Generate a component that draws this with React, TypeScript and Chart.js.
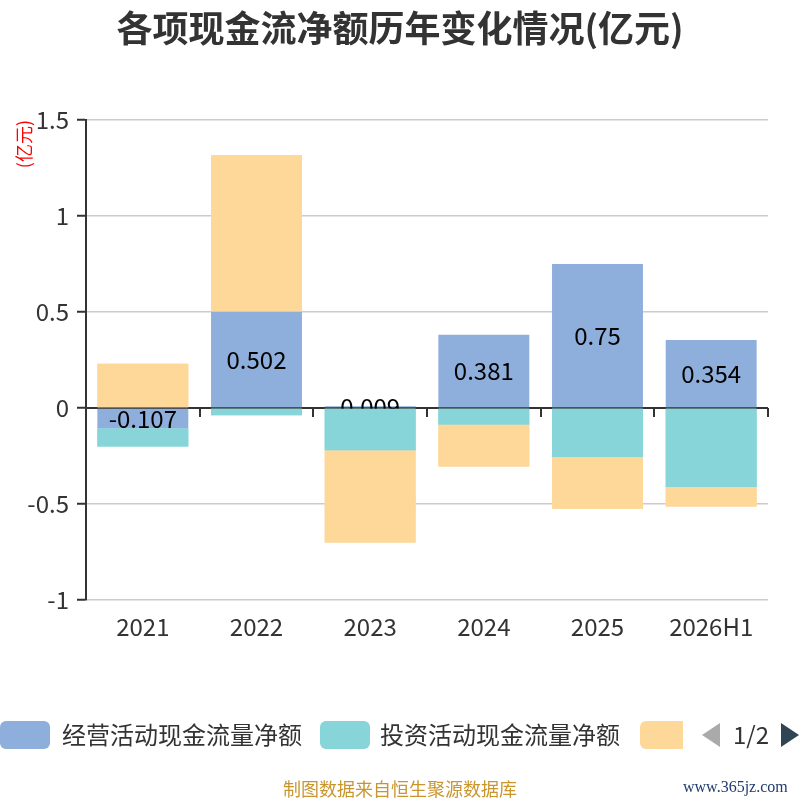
import { useEffect, useRef } from "react";
import { Chart, registerables } from "chart.js";

Chart.register(...registerables);

const categories = ["2021", "2022", "2023", "2024", "2025", "2026H1"];
const seriesNames = ["经营活动现金流量净额", "投资活动现金流量净额", "筹资活动现金流量净额"];
const operating = [-0.107, 0.502, 0.009, 0.381, 0.75, 0.354];
const investing = [-0.093, -0.038, -0.221, -0.087, -0.256, -0.412];
const financing = [0.231, 0.814, -0.48, -0.218, -0.269, -0.101];
const colors = ["#8eaedb", "#87d5d8", "#fdd899"];

const FONT = "'Noto Sans CJK SC', 'Noto Sans', sans-serif";

// zero axis line with ticks at category boundaries, drawn under the bars
const zeroAxis = {
  id: "zeroAxis",
  beforeDatasetsDraw(chart: any) {
    const { ctx, chartArea, scales } = chart;
    const y0 = Math.round(scales.y.getPixelForValue(0));
    const step = (chartArea.right - chartArea.left) / categories.length;
    ctx.save();
    ctx.strokeStyle = "#333";
    ctx.lineWidth = 2;
    ctx.beginPath();
    ctx.moveTo(chartArea.left, y0);
    ctx.lineTo(chartArea.right, y0);
    for (let i = 1; i <= categories.length; i++) {
      const x = Math.round(chartArea.left + i * step);
      ctx.moveTo(x, y0);
      ctx.lineTo(x, y0 + 9);
    }
    ctx.stroke();
    ctx.restore();
  },
};

// operating values in the middle of the blue bars; the other bars are painted
// again afterwards so they cover the labels like in the original
const barLabels = {
  id: "barLabels",
  afterDatasetsDraw(chart: any) {
    const { ctx } = chart;
    const meta = chart.getDatasetMeta(0);
    ctx.save();
    ctx.font = `24px ${FONT}`;
    ctx.fillStyle = "#000";
    ctx.textAlign = "center";
    ctx.textBaseline = "middle";
    meta.data.forEach((el: any, i: number) => {
      const y = (el.y + el.base) / 2;
      ctx.fillText(String(operating[i]), el.x, y);
    });
    ctx.restore();
    [1, 2].forEach((k) => {
      chart.getDatasetMeta(k).data.forEach((el: any) => el.draw(ctx));
    });
  },
};

export default function App() {
  const canvasRef = useRef<HTMLCanvasElement | null>(null);
  const chartRef = useRef<Chart | null>(null);

  useEffect(() => {
    const ctx = canvasRef.current?.getContext("2d");
    if (!ctx) return;
    if (chartRef.current) chartRef.current.destroy();

    chartRef.current = new Chart(ctx, {
      type: "bar",
      data: {
        labels: categories,
        datasets: [operating, investing, financing].map((d, i) => ({
          label: seriesNames[i],
          data: d,
          backgroundColor: colors[i],
          borderWidth: 0,
          categoryPercentage: 0.8,
          barPercentage: 1,
        })),
      },
      options: {
        responsive: true,
        maintainAspectRatio: false,
        animation: false,
        layout: { padding: { left: 0, right: 32, top: 120, bottom: 160 } },
        plugins: {
          legend: { display: false },
          tooltip: { enabled: false },
        },
        scales: {
          x: {
            stacked: true,
            grid: { display: false, drawTicks: false },
            border: { display: false },
            ticks: {
              color: "#333",
              padding: 12,
              font: { family: FONT, size: 24 },
            },
            afterFit: (s: any) => {
              s.height = 40;
            },
          },
          y: {
            stacked: true,
            min: -1,
            max: 1.5,
            ticks: {
              stepSize: 0.5,
              color: "#333",
              padding: 8,
              font: { family: FONT, size: 24 },
              callback: (v: any) => String(Number(v)),
            },
            grid: {
              color: "#cccccc",
              lineWidth: 1.5,
              tickColor: "#333",
              tickLength: 9,
              tickWidth: 2,
            },
            border: { color: "#333", width: 2 },
            title: {
              display: true,
              text: "(亿元)",
              color: "#ff0000",
              align: "end",
              padding: { top: 13, bottom: 0 },
              font: { family: FONT, size: 18 },
            },
            afterFit: (s: any) => {
              s.width = 86;
            },
          },
        },
      },
      plugins: [zeroAxis, barLabels],
    });

    return () => {
      chartRef.current?.destroy();
      chartRef.current = null;
    };
  }, []);

  const legendText = { position: "absolute" as const, top: 718, fontSize: 24, lineHeight: "32px", color: "#333", whiteSpace: "nowrap" as const };
  const box = (left: number, width: number, color: string) => ({
    position: "absolute" as const,
    left,
    top: 721,
    width,
    height: 28,
    borderRadius: 6,
    background: color,
  });

  return (
    <div style={{ position: "absolute", left: 0, top: 0, width: 800, height: 800, background: "#fff", fontFamily: FONT, overflow: "hidden" }}>
      <canvas ref={canvasRef} />
      <div style={{ position: "absolute", top: 3, left: 0, width: 800, textAlign: "center", fontSize: 36, fontWeight: "bold", color: "#333", lineHeight: "46px" }}>
        各项现金流净额历年变化情况(亿元)
      </div>
      <div style={box(0, 50, colors[0])} />
      <div style={{ ...legendText, left: 62 }}>{seriesNames[0]}</div>
      <div style={box(320, 50, colors[1])} />
      <div style={{ ...legendText, left: 380 }}>{seriesNames[1]}</div>
      <div style={{ ...box(640, 50, colors[2]), clipPath: "inset(0 7px 0 0)" }} />
      <div style={{ position: "absolute", left: 702, top: 723, width: 0, height: 0, borderTop: "12px solid transparent", borderBottom: "12px solid transparent", borderRight: "18px solid #aaa" }} />
      <div style={{ ...legendText, left: 733 }}>1/2</div>
      <div style={{ position: "absolute", left: 781, top: 723, width: 0, height: 0, borderTop: "12px solid transparent", borderBottom: "12px solid transparent", borderLeft: "18px solid #2f4554" }} />
      <div style={{ position: "absolute", top: 776, left: 0, width: 800, textAlign: "center", fontSize: 18, color: "#c9962e", lineHeight: "24px" }}>
        制图数据来自恒生聚源数据库
      </div>
      <div style={{ position: "absolute", top: 776, left: 683, fontSize: 16, color: "#1f3b6e", fontFamily: "'Liberation Serif', serif", lineHeight: "22px" }}>
        www.365jz.com
      </div>
    </div>
  );
}
